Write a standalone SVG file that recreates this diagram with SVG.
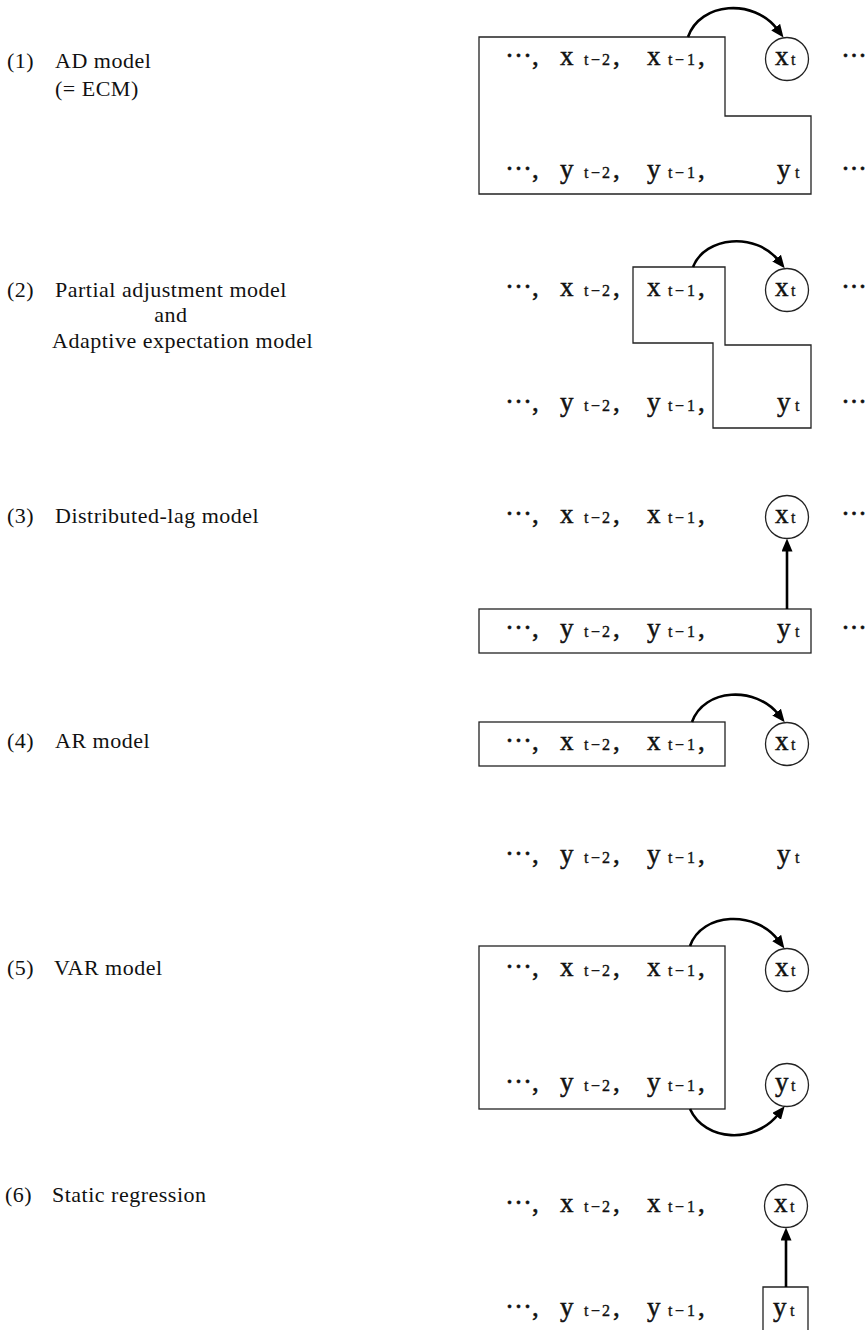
<svg xmlns="http://www.w3.org/2000/svg" width="868" height="1330" viewBox="0 0 868 1330">
<style>
.lbl{font-family:"Liberation Serif","Times New Roman",serif;font-size:22px;letter-spacing:0.5px;fill:#111}
.v{font-family:"Liberation Serif","Times New Roman",serif;font-size:27px;fill:#111;stroke:#111;stroke-width:0.5}
.s{font-size:16px;stroke-width:0.35}
.rd{font-family:"Liberation Serif","Times New Roman",serif;font-size:27px;fill:#111;stroke:#111;stroke-width:0.5;letter-spacing:-0.5px}
.box{fill:none;stroke:#222;stroke-width:1.3}
.circ{fill:#fff;stroke:#222;stroke-width:1.3}
.arr{fill:none;stroke:#000;stroke-width:2.6;marker-end:url(#ah)}
</style>
<defs>
<marker id="ah" markerUnits="userSpaceOnUse" markerWidth="15" markerHeight="11" refX="3" refY="5.5" orient="auto">
<path d="M0,0 L13,5.5 L0,11 z" fill="#000"/>
</marker>
</defs>
<rect width="868" height="1330" fill="#fff"/>

<!-- Section 1 -->
<g id="label1">
<text class="lbl" x="7" y="68">(1)</text>
<text class="lbl" x="55" y="68">AD model</text>
<text class="lbl" x="55" y="96">(= ECM)</text>
</g>
<g id="s1-box"><polygon class="box" points="479,37 725,37 725,116 811,116 811,194 479,194"/></g>
<g id="s1-xrow"><text class="v" y="65"><tspan x="505">···,</tspan><tspan x="560">x</tspan><tspan class="s" x="584 591 602">t−2</tspan><tspan x="613">,</tspan><tspan x="647">x</tspan><tspan class="s" x="668 675 687">t−1</tspan><tspan x="698">,</tspan></text><text class="rd" x="841" y="65">···</text></g>
<g id="s1-yrow"><text class="v" y="178"><tspan x="505">···,</tspan><tspan x="560">y</tspan><tspan class="s" x="584 591 602">t−2</tspan><tspan x="613">,</tspan><tspan x="647">y</tspan><tspan class="s" x="668 675 687">t−1</tspan><tspan x="698">,</tspan><tspan x="777">y</tspan><tspan class="s" x="795">t</tspan></text><text class="rd" x="841" y="178">···</text></g>
<g id="s1-xt"><circle class="circ" cx="787" cy="59" r="21.5"/><text class="v" y="65"><tspan x="775">x</tspan><tspan class="s" x="791">t</tspan></text></g>

<!-- Section 2 -->
<g id="label2">
<text class="lbl" x="7" y="297">(2)</text>
<text class="lbl" x="55" y="297">Partial adjustment model</text>
<text class="lbl" x="171" y="322" text-anchor="middle">and</text>
<text class="lbl" x="52" y="348">Adaptive expectation model</text>
</g>
<g id="s2-box"><polygon class="box" points="633,267 725,267 725,345 811,345 811,428 713,428 713,343 633,343"/></g>
<g id="s2-xrow"><text class="v" y="296"><tspan x="505">···,</tspan><tspan x="560">x</tspan><tspan class="s" x="584 591 602">t−2</tspan><tspan x="613">,</tspan><tspan x="647">x</tspan><tspan class="s" x="668 675 687">t−1</tspan><tspan x="698">,</tspan></text><text class="rd" x="841" y="296">···</text></g>
<g id="s2-yrow"><text class="v" y="411"><tspan x="505">···,</tspan><tspan x="560">y</tspan><tspan class="s" x="584 591 602">t−2</tspan><tspan x="613">,</tspan><tspan x="647">y</tspan><tspan class="s" x="668 675 687">t−1</tspan><tspan x="698">,</tspan><tspan x="777">y</tspan><tspan class="s" x="795">t</tspan></text><text class="rd" x="841" y="411">···</text></g>
<g id="s2-xt"><circle class="circ" cx="787" cy="290" r="21.5"/><text class="v" y="296"><tspan x="775">x</tspan><tspan class="s" x="791">t</tspan></text></g>

<!-- Section 3 -->
<g id="label3">
<text class="lbl" x="7" y="523">(3)</text>
<text class="lbl" x="55" y="523">Distributed-lag model</text>
</g>
<g id="s3-xrow"><text class="v" y="523"><tspan x="505">···,</tspan><tspan x="560">x</tspan><tspan class="s" x="584 591 602">t−2</tspan><tspan x="613">,</tspan><tspan x="647">x</tspan><tspan class="s" x="668 675 687">t−1</tspan><tspan x="698">,</tspan></text><text class="rd" x="841" y="523">···</text></g>
<g id="s3-box"><rect class="box" x="479" y="609" width="332" height="44"/></g>
<g id="s3-yrow"><text class="v" y="637"><tspan x="505">···,</tspan><tspan x="560">y</tspan><tspan class="s" x="584 591 602">t−2</tspan><tspan x="613">,</tspan><tspan x="647">y</tspan><tspan class="s" x="668 675 687">t−1</tspan><tspan x="698">,</tspan><tspan x="777">y</tspan><tspan class="s" x="795">t</tspan></text><text class="rd" x="841" y="637">···</text></g>
<g id="s3-xt"><circle class="circ" cx="787" cy="517" r="21.5"/><text class="v" y="523"><tspan x="775">x</tspan><tspan class="s" x="791">t</tspan></text></g>

<!-- Section 4 -->
<g id="label4">
<text class="lbl" x="7" y="748">(4)</text>
<text class="lbl" x="55" y="748">AR model</text>
</g>
<g id="s4-box"><rect class="box" x="479" y="722" width="246" height="44"/></g>
<g id="s4-xrow"><text class="v" y="750"><tspan x="505">···,</tspan><tspan x="560">x</tspan><tspan class="s" x="584 591 602">t−2</tspan><tspan x="613">,</tspan><tspan x="647">x</tspan><tspan class="s" x="668 675 687">t−1</tspan><tspan x="698">,</tspan></text></g>
<g id="s4-yrow"><text class="v" y="863"><tspan x="505">···,</tspan><tspan x="560">y</tspan><tspan class="s" x="584 591 602">t−2</tspan><tspan x="613">,</tspan><tspan x="647">y</tspan><tspan class="s" x="668 675 687">t−1</tspan><tspan x="698">,</tspan><tspan x="777">y</tspan><tspan class="s" x="795">t</tspan></text></g>
<g id="s4-xt"><circle class="circ" cx="787" cy="744" r="21.5"/><text class="v" y="750"><tspan x="775">x</tspan><tspan class="s" x="791">t</tspan></text></g>

<!-- Section 5 -->
<g id="label5">
<text class="lbl" x="7" y="975">(5)</text>
<text class="lbl" x="54" y="975">VAR model</text>
</g>
<g id="s5-box"><rect class="box" x="479" y="946" width="246" height="163"/></g>
<g id="s5-xrow"><text class="v" y="976"><tspan x="505">···,</tspan><tspan x="560">x</tspan><tspan class="s" x="584 591 602">t−2</tspan><tspan x="613">,</tspan><tspan x="647">x</tspan><tspan class="s" x="668 675 687">t−1</tspan><tspan x="698">,</tspan></text></g>
<g id="s5-yrow"><text class="v" y="1091"><tspan x="505">···,</tspan><tspan x="560">y</tspan><tspan class="s" x="584 591 602">t−2</tspan><tspan x="613">,</tspan><tspan x="647">y</tspan><tspan class="s" x="668 675 687">t−1</tspan><tspan x="698">,</tspan></text></g>
<g id="s5-xt"><circle class="circ" cx="787" cy="970" r="21.5"/><text class="v" y="976"><tspan x="775">x</tspan><tspan class="s" x="791">t</tspan></text></g>
<g id="s5-yt"><circle class="circ" cx="787" cy="1085" r="21.5"/><text class="v" y="1091"><tspan x="775">y</tspan><tspan class="s" x="791">t</tspan></text></g>

<!-- Section 6 -->
<g id="label6">
<text class="lbl" x="5" y="1202">(6)</text>
<text class="lbl" x="52" y="1202">Static regression</text>
</g>
<g id="s6-xrow"><text class="v" y="1212"><tspan x="505">···,</tspan><tspan x="560">x</tspan><tspan class="s" x="584 591 602">t−2</tspan><tspan x="613">,</tspan><tspan x="647">x</tspan><tspan class="s" x="668 675 687">t−1</tspan><tspan x="698">,</tspan></text></g>
<g id="s6-yrow"><text class="v" y="1316"><tspan x="505">···,</tspan><tspan x="560">y</tspan><tspan class="s" x="584 591 602">t−2</tspan><tspan x="613">,</tspan><tspan x="647">y</tspan><tspan class="s" x="668 675 687">t−1</tspan><tspan x="698">,</tspan></text></g>
<g id="s6-xt"><circle class="circ" cx="786" cy="1206" r="21.5"/><text class="v" y="1212"><tspan x="774">x</tspan><tspan class="s" x="790">t</tspan></text></g>
<g id="s6-yt"><path class="box" d="M763,1331 V1287 H808 V1331"/><text class="v" y="1316"><tspan x="773">y</tspan><tspan class="s" x="790">t</tspan></text></g>

<g id="connectors">
<path class="arr" d="M688,37 C700,2 754,-2 777.5,29.5"/>
<path class="arr" d="M693,267 C705,236 756,232 778.5,260.5"/>
<path class="arr" d="M787,609 L787,548.5"/>
<path class="arr" d="M692,722 C704,688 756,686 778.5,714.5"/>
<path class="arr" d="M690,946 C702,912 756,910 778.5,940.5"/>
<path class="arr" d="M690,1109 C705,1142 755,1144 778.5,1114"/>
<path class="arr" d="M786,1287 L786,1237.5"/>
</g>
</svg>
